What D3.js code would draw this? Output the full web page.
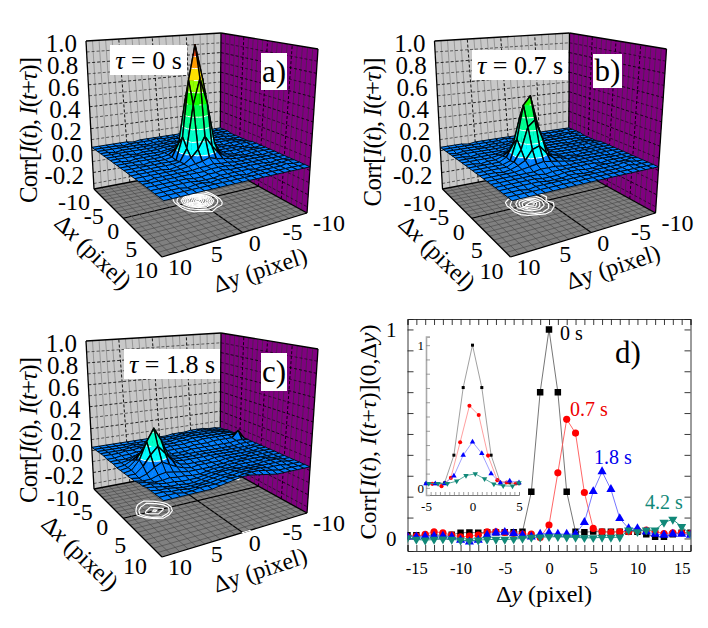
<!DOCTYPE html>
<html>
<head>
<meta charset="utf-8">
<script src="https://cdnjs.cloudflare.com/ajax/libs/d3/7.8.5/d3.min.js"></script>
<style>
  html, body { margin: 0; padding: 0; background: #fff; }
  text { font-family: "Liberation Serif", serif; fill: #000; }
</style>
</head>
<body>
<div id="chart"></div>
<script>
// surface heights, z * 100. rows are dx -10..10, columns are dy -10..10
const surfaceA = [
  [3,3,2,3,3,3,4,3,3,3,3,3,3,3,2,3,3,3,3,3,3],
  [3,3,3,3,2,3,3,4,3,3,3,4,3,3,3,3,2,3,3,3,3],
  [3,3,3,2,3,3,3,3,3,4,3,3,3,2,3,3,3,3,3,3,3],
  [2,3,3,3,3,2,3,3,3,3,4,3,3,3,3,3,3,3,2,3,3],
  [2,2,3,3,3,3,3,3,4,4,4,4,3,3,3,3,3,3,3,3,3],
  [2,2,2,3,3,3,3,3,3,4,4,4,4,3,3,3,2,3,3,3,3],
  [2,2,3,3,3,3,3,3,4,4,5,5,4,3,3,3,3,3,3,3,3],
  [2,3,3,3,2,3,3,4,5,6,8,6,5,4,3,3,3,3,2,3,3],
  [3,3,3,2,3,3,3,4,8,14,24,15,8,4,3,3,3,3,3,3,3],
  [3,3,2,3,3,3,3,4,14,50,72,50,15,4,3,3,3,2,3,3,3],
  [3,2,3,3,3,3,3,3,22,70,100,70,22,3,3,3,3,3,3,3,3],
  [3,3,3,3,3,2,3,4,15,50,72,50,14,4,3,3,3,3,3,3,3],
  [3,3,3,3,2,3,3,4,8,15,24,14,8,4,3,2,3,3,3,3,3],
  [3,3,2,3,3,3,3,4,5,6,8,6,5,4,3,3,3,3,3,3,3],
  [3,3,3,3,3,3,3,3,4,4,5,4,4,3,3,3,3,3,3,2,3],
  [3,3,3,3,3,3,3,3,3,4,4,4,3,3,3,3,3,3,3,3,3],
  [3,3,3,2,3,3,3,3,3,3,4,3,3,2,2,3,3,3,3,3,3],
  [3,4,3,3,3,3,2,3,3,3,3,3,2,2,2,3,3,3,3,3,3],
  [3,3,4,3,3,3,3,3,2,3,3,3,3,2,3,3,2,3,3,3,3],
  [3,3,3,3,3,3,3,3,3,3,3,3,3,3,3,3,3,3,3,3,3],
  [3,3,3,3,3,3,3,3,3,3,3,3,3,3,3,3,3,3,3,3,3]
];
const surfaceB = [
  [3,3,3,3,3,3,3,3,4,3,3,3,3,3,3,3,2,3,3,3,3],
  [3,4,3,3,3,3,4,3,3,3,3,4,3,3,3,3,3,3,3,3,3],
  [3,3,3,3,2,3,3,3,3,4,3,3,3,3,3,2,3,3,3,3,3],
  [3,3,4,3,3,3,3,3,3,3,3,4,3,3,3,3,3,3,3,2,3],
  [2,3,3,3,3,3,3,3,3,3,4,4,4,3,3,3,3,3,3,3,3],
  [2,2,3,3,3,3,3,3,3,3,4,4,4,4,3,3,3,3,2,3,3],
  [2,2,3,3,2,3,3,3,3,3,4,4,5,4,4,3,3,3,3,3,3],
  [2,3,3,3,3,3,3,3,3,4,5,6,8,7,5,4,3,3,3,3,3],
  [3,3,3,3,3,3,3,3,3,5,7,13,22,20,9,5,3,3,2,3,3],
  [3,3,3,2,3,3,3,3,3,5,8,24,44,38,16,6,3,3,3,3,3],
  [3,3,3,3,3,3,3,3,3,4,6,31,57,50,22,5,3,3,3,3,3],
  [3,3,3,3,3,3,2,3,3,5,7,22,38,33,15,6,3,3,3,3,3],
  [3,3,3,3,3,3,3,3,3,5,6,11,18,16,8,5,3,2,3,3,3],
  [3,3,2,3,3,3,3,3,3,4,5,6,7,6,5,4,3,3,3,3,3],
  [3,3,3,3,3,3,3,3,3,3,3,4,4,4,3,3,3,3,3,3,3],
  [3,3,3,3,3,2,3,3,3,3,3,3,3,2,3,3,3,3,3,3,3],
  [3,4,3,3,3,3,3,2,2,3,3,3,2,2,2,3,3,3,3,3,3],
  [3,3,4,4,3,3,3,3,2,2,3,3,2,2,2,3,3,3,3,3,3],
  [3,3,3,4,3,3,3,3,3,3,3,3,3,3,3,3,3,2,3,3,3],
  [3,3,3,3,3,3,3,3,3,3,3,3,3,3,3,3,3,3,3,3,3],
  [3,3,3,3,3,3,3,3,3,3,3,3,3,3,3,3,3,3,3,3,3]
];
const surfaceC = [
  [3,4,4,5,5,5,4,4,4,3,3,3,3,3,3,3,3,3,3,3,3],
  [3,4,5,5,6,5,5,5,4,4,4,3,3,3,3,3,3,3,3,3,3],
  [4,5,5,6,6,6,6,5,5,4,4,4,3,3,3,4,3,3,3,3,3],
  [4,5,6,6,6,6,6,6,5,5,4,4,4,3,4,4,4,3,3,3,3],
  [4,6,6,6,6,6,6,6,5,5,4,4,4,4,4,5,4,4,3,3,3],
  [3,6,6,6,6,6,6,5,5,4,4,4,3,3,4,4,4,3,3,2,2],
  [3,11,5,5,5,5,4,4,4,3,3,3,3,3,3,4,4,3,2,2,2],
  [3,4,4,3,3,3,3,3,3,3,2,2,2,2,3,6,8,6,3,2,2],
  [3,3,3,2,2,2,2,2,2,2,2,2,2,3,6,9,12,9,5,2,1],
  [3,2,2,2,2,2,2,2,2,2,2,2,2,3,8,14,22,15,7,2,1],
  [3,3,2,2,2,2,2,2,2,2,2,2,2,3,8,22,33,23,9,2,1],
  [3,3,2,2,2,2,2,2,2,1,1,1,1,2,6,13,20,14,6,1,1],
  [3,3,3,3,2,2,2,2,1,1,1,1,0,1,3,6,9,6,2,0,1],
  [3,3,3,3,3,2,2,2,1,1,0,0,0,0,1,2,3,2,0,0,1],
  [3,3,3,3,3,3,3,2,2,1,1,0,-1,-1,0,0,1,0,0,1,2],
  [3,3,3,4,3,3,3,3,2,2,1,1,0,-1,-1,-1,0,0,1,2,2],
  [3,3,4,4,4,3,3,3,3,3,3,2,1,0,-1,-1,0,0,1,2,3],
  [3,3,4,4,4,4,4,4,4,4,3,3,2,1,0,0,0,1,2,2,3],
  [3,3,3,4,4,4,5,5,5,5,4,4,3,2,2,1,1,2,2,3,3],
  [3,3,3,3,3,4,5,6,6,6,5,5,4,3,3,3,2,2,3,3,3],
  [3,3,3,3,3,3,4,5,6,7,7,6,5,4,3,3,3,3,3,3,3]
];

// cut along dx = 0 for each delay
const dyValues = [-16,-15,-14,-13,-12,-11,-10,-9,-8,-7,-6,-5,-4,-3,-2,-1,0,1,2,3,4,5,6,7,8,9,10,11,12,13,14,15,16];
const corr0s = [.015,.016,.012,.018,.014,.018,.027,.029,.027,.03,.03,.03,.03,.032,.223,.70,1,.70,.223,.032,.03,.033,.032,.032,.032,.032,.032,.02,.008,.008,.02,.027,.027];
const corr07s = [.008,.011,.02,.032,.027,.016,.008,.011,.016,.032,.032,.029,.024,.021,.021,.005,.064,.314,.57,.504,.22,.048,.032,.029,.032,.032,.037,.04,.032,.024,.027,.027,.024];
const corr18s = [.008,.008,.01,.012,.012,.008,-.008,-.016,-.008,.016,.027,.03,.024,.016,.008,.021,.027,.021,.021,.021,.077,.225,.32,.235,.096,.048,.048,.032,.021,.016,.021,.021,.016];
const corr42s = [.003,-.005,-.008,-.005,-.003,-.005,-.008,-.011,-.008,-.005,-.005,-.005,-.003,0,.005,.006,.008,.008,.006,.005,.003,.003,.005,.005,.006,.04,.032,.04,.04,.077,.091,.056,.021];

// inset, same delays with the peaks moved on top of each other
const insetX0s = [-5,-4,-3,-2,-1,0,1,2,3,4,5];
const insetY0s = [.03,.03,.035,.229,.703,1,.703,.229,.035,.035,.03];
const insetX07s = [-4.33,-3.33,-2.33,-1.33,-.33,.67,1.67,2.67,3.67,4.67];
const insetY07s = [.028,.012,.07,.32,.575,.51,.226,.054,.037,.03];
const insetX18s = [-5,-4,-3,-2,-1,0,1,2,3,4,5];
const insetY18s = [.03,.03,.03,.084,.229,.322,.241,.1,.035,.049,.037];
const insetX42s = [-4.7,-3.7,-2.7,-1.7,-.7,.3,1.3,2.3,3.3,4.3,5];
const insetY42s = [.03,.03,.03,.047,.086,.098,.063,.026,.014,.012,.035];

const zTicks = [1.0,0.8,0.6,0.4,0.2,0.0,-0.2];
const dxTicks = [-10,-5,0,5,10];
const dyTicks = [10,5,0,-5,-10];
const levels = [.1,.2,.3,.4,.5,.6,.7,.8,.9];
const levelColors = ["#0080ff","#00ffff","#00ffc8","#00ff90","#00ff50","#10ff00","#90ff00","#ffe000","#ff9a00","#ff4a10"];

const W = 708, H = 628;
const svg = d3.select("#chart").append("svg").attr("width", W).attr("height", H);

// parts: [text, italic] pairs
function rich(sel, parts) {
  parts.forEach(p => sel.append("tspan").attr("font-style", p[1] ? "italic" : "normal").text(p[0]));
  return sel;
}

function squareToQuad(q) {
  const [p0, p1, p2, p3] = q;
  const dx1 = p1[0]-p2[0], dx2 = p3[0]-p2[0], sx = p0[0]-p1[0]+p2[0]-p3[0];
  const dy1 = p1[1]-p2[1], dy2 = p3[1]-p2[1], sy = p0[1]-p1[1]+p2[1]-p3[1];
  const den = dx1*dy2 - dx2*dy1;
  const g = (sx*dy2 - dx2*sy)/den, h = (dx1*sy - sx*dy1)/den;
  const a = p1[0]-p0[0]+g*p1[0], b = p3[0]-p0[0]+h*p3[0];
  const d = p1[1]-p0[1]+g*p1[1], e = p3[1]-p0[1]+h*p3[1];
  return (u, v) => {
    const k = g*u + h*v + 1;
    return [(a*u + b*v + p0[0])/k, (d*u + e*v + p0[1])/k];
  };
}

// keep the part of a polygon [dx,dy,z] on one side of a z level
function clipZ(poly, level, keepAbove) {
  const out = [];
  poly.forEach((p, i) => {
    const q = poly[(i+1) % poly.length];
    const pIn = keepAbove ? p[2] >= level : p[2] <= level;
    const qIn = keepAbove ? q[2] >= level : q[2] <= level;
    if (pIn) out.push(p);
    if (pIn !== qIn) {
      const t = (level - p[2])/(q[2] - p[2]);
      out.push([p[0]+t*(q[0]-p[0]), p[1]+t*(q[1]-p[1]), level]);
    }
  });
  return out;
}

function Plot3D(cfg) {
  const g = svg.append("g").attr("transform", `translate(${cfg.ox},${cfg.oy})`);
  const dyScale = d3.scaleLinear().domain([-10,10]).range([0,1]);
  const dxScale = d3.scaleLinear().domain([-10,10]).range([0,1]);
  const zScale = d3.scaleLinear().domain([-0.35,1]).range([0,1]);
  // D back, A left, B front, C right
  const floor = squareToQuad([[220,165],[94,189],[162,257],[307,213]]);
  const top = squareToQuad([[221,33],[86,41],[168,57],[318,49]]);
  const project = (dx, dy, z) => {
    const u = dyScale(dy), v = dxScale(dx), w = zScale(z);
    const a = floor(u,v), b = top(u,v);
    return [a[0]+w*(b[0]-a[0]), a[1]+w*(b[1]-a[1])];
  };
  const closed = d3.line().curve(d3.curveLinearClosed);
  const open = d3.line();

  const face = (pts, fill) => g.append("path").attr("d", closed(pts)).attr("fill", fill);
  const seg = (a, b, w, color, dash) => g.append("path").attr("d", open([a,b])).attr("fill","none").attr("stroke",color)
    .attr("stroke-width", w).attr("stroke-dasharray", dash || null);

  const zMin = zScale.domain()[0];
  face([project(-10,10,zMin),project(-10,-10,zMin),project(-10,-10,1),project(-10,10,1)], "#c8c8c8");
  face([project(-10,-10,zMin),project(10,-10,zMin),project(10,-10,1),project(-10,-10,1)], "#800080");
  face([project(-10,-10,zMin),project(-10,10,zMin),project(10,10,zMin),project(10,-10,zMin)], "#808080");

  d3.range(-9,10).forEach(i => {
    const major = i % 5 === 0;
    seg(project(-10,i,zMin), project(-10,i,1), major ? 0.9 : 0.6, major ? "#000" : "#777", major ? "3,2" : null);
    seg(project(i,-10,zMin), project(i,-10,1), major ? 0.9 : 0.6, major ? "#000" : "#333", major ? "3,2" : null);
    seg(project(-10,i,zMin), project(10,i,zMin), i === 0 ? 1.2 : 0.6, i === 0 ? "#000" : "#444");
    seg(project(i,-10,zMin), project(i,10,zMin), i === 0 ? 1.2 : 0.6, i === 0 ? "#000" : "#444");
  });
  d3.range(-3,10).forEach(i => {
    const z = i/10, major = i % 2 === 0;
    seg(project(-10,10,z), project(-10,-10,z), major ? 0.8 : 0.55, "#000", "3,2");
    seg(project(-10,-10,z), project(10,-10,z), major ? 0.8 : 0.55, "#000", "3,2");
  });
  // wall and floor outlines
  const outline = [[-10,10,1,-10,-10,1],[-10,-10,1,10,-10,1],[10,-10,1,10,-10,zMin],[-10,10,1,-10,10,zMin],
    [-10,-10,1,-10,-10,zMin],[-10,10,zMin,10,10,zMin],[10,10,zMin,10,-10,zMin],[-10,10,zMin,-10,-10,zMin],[-10,-10,zMin,10,-10,zMin]];
  outline.forEach(o => seg(project(o[0],o[1],o[2]), project(o[3],o[4],o[5]), 1.3, "#000"));

  // contours on the floor
  const n = cfg.surface.length;
  const flat = cfg.surface.flat().map(v => v/100);
  const contours = d3.contours().size([n,n]).smooth(true).thresholds(cfg.contourLevels)(flat);
  contours.forEach(c => c.coordinates.forEach(polygon => polygon.forEach(ring => {
    const pts = ring.map(p => project(p[1]-0.5-10, p[0]-0.5-10, zMin));
    g.append("path").attr("d", closed(pts)).attr("fill","none").attr("stroke","#fff").attr("stroke-width",1.2);
  })));

  // surface, back corner first so the nearer cells cover the farther ones
  const bands = [-1].concat(levels, [2]);
  const node = (r, c) => [r-10, c-10, cfg.surface[r][c]/100];
  for (let r = 0; r < n-1; r++) {
    for (let c = 0; c < n-1; c++) {
      const quad = [node(r,c), node(r,c+1), node(r+1,c+1), node(r+1,c)];
      const tris = [[quad[0],quad[1],quad[2]], [quad[0],quad[2],quad[3]]];
      tris.forEach(tri => {
        for (let b = 0; b < bands.length-1; b++) {
          const poly = clipZ(clipZ(tri, bands[b], true), bands[b+1], false);
          if (poly.length < 3) continue;
          g.append("path").attr("d", closed(poly.map(p => project(p[0],p[1],p[2]))))
            .attr("fill", levelColors[b]).attr("stroke", levelColors[b]).attr("stroke-width", 0.3);
        }
        levels.forEach(l => {
          const up = clipZ(tri, l, true).filter(p => p[2] === l);
          if (up.length === 2) {
            g.append("path").attr("d", open(up.map(p => project(p[0],p[1],p[2]))))
              .attr("fill","none").attr("stroke","#fff").attr("stroke-width",1);
          }
        });
      });
      const peak = d3.max(quad, p => p[2]) > 0.1;
      g.append("path").attr("d", closed(quad.map(p => project(p[0],p[1],p[2]))))
        .attr("fill","none").attr("stroke","#000").attr("stroke-width", peak ? 1.4 : 0.9).attr("stroke-linejoin","round");
    }
  }

  // tick labels
  zTicks.forEach(t => {
    const p = project(-10,10,t);
    g.append("text").attr("x", p[0]-9).attr("y", p[1]+11).attr("text-anchor","end").attr("font-size",25)
      .text(d3.format(".1f")(t).replace("\u2212","-"));
  });
  dxTicks.forEach(t => {
    const p = project(t,10,zMin);
    g.append("text").attr("x", p[0]-4+cfg.dxLabel[0]).attr("y", p[1]+21+cfg.dxLabel[1]).attr("text-anchor","end").attr("font-size",24)
      .text(String(t));
  });
  dyTicks.forEach(t => {
    const p = project(10,t,zMin);
    g.append("text").attr("x", p[0]+6).attr("y", p[1]+18).attr("text-anchor","start").attr("font-size",24)
      .text(String(t));
  });

  // axis titles
  rich(g.append("text").attr("transform", `translate(${cfg.zTitle[0]},${cfg.zTitle[1]}) rotate(-90)`)
    .attr("text-anchor","middle").attr("font-size",25).attr("y",8).attr("textLength",cfg.zTitle[2]).attr("lengthAdjust","spacing"),
    [["Corr[",0],["I",1],["(",0],["t",1],["),  ",0],["I",1],["(",0],["t",1],["+",0],["τ",1],[")]",0]]);
  rich(g.append("text").attr("transform", `translate(${cfg.dxTitle[0]},${cfg.dxTitle[1]}) rotate(44)`)
    .attr("text-anchor","middle").attr("font-size",24).attr("y",8), [["Δ",0],["x",1],[" (pixel)",0]]);
  rich(g.append("text").attr("transform", `translate(${cfg.dyTitle[0]},${cfg.dyTitle[1]}) rotate(-18)`)
    .attr("text-anchor","middle").attr("font-size",24).attr("y",8), [["Δ",0],["y",0],[" (pixel)",0]]);

  // white labels on the walls
  const b1 = cfg.tauBox, b2 = cfg.letterBox;
  g.append("rect").attr("x",b1[0]).attr("y",b1[1]).attr("width",b1[2]).attr("height",b1[3]).attr("fill","#fff");
  rich(g.append("text").attr("x",b1[0]+b1[2]/2).attr("y",b1[1]+b1[3]/2+9).attr("text-anchor","middle").attr("font-size",26),
    [["τ",1],[" = "+cfg.tau,0]]);
  g.append("rect").attr("x",b2[0]).attr("y",b2[1]).attr("width",b2[2]).attr("height",b2[3]).attr("fill","#fff");
  g.append("text").attr("x",b2[0]+b2[2]/2).attr("y",b2[1]+b2[3]/2+10).attr("text-anchor","middle").attr("font-size",31).text(cfg.letter);
}

function addSeries(g, xs, ys, x, y, color, lineColor, symbolType, size, flip, lineWidth) {
  const pts = xs.map((v,i) => [x(v), y(ys[i])]);
  g.append("path").attr("d", d3.line()(pts)).attr("fill","none").attr("stroke",lineColor).attr("stroke-width",lineWidth);
  g.selectAll(null).data(pts).join("path")
    .attr("d", d3.symbol().type(symbolType).size(size)())
    .attr("transform", d => `translate(${d[0]},${d[1]})${flip ? " rotate(180)" : ""}`)
    .attr("fill", color);
}

function PlotCuts() {
  const x = d3.scaleLinear().domain([-16,16]).range([407.5,690.5]);
  const y = d3.scaleLinear().domain([-0.06,1.05]).range([551,319]);
  const g = svg.append("g");

  g.append("clipPath").attr("id","frame").append("rect")
    .attr("x",407.5).attr("y",319).attr("width",283).attr("height",232);

  const bottom = d3.axisBottom(x).tickValues(d3.range(-16,17)).tickSize(-6).tickPadding(11)
    .tickFormat(d => d % 5 === 0 ? String(d) : "");
  const topAxis = d3.axisTop(x).tickValues(d3.range(-16,17)).tickSize(-6).tickFormat("");
  const left = d3.axisLeft(y).tickValues(d3.range(0,11).map(d => d/10)).tickSize(-6).tickPadding(11)
    .tickFormat(d => (d === 0 || d === 1) ? String(d) : "");
  const right = d3.axisRight(y).tickValues(d3.range(0,11).map(d => d/10)).tickSize(-6).tickFormat("");

  const gb = g.append("g").attr("transform","translate(0,551)").call(bottom);
  const gt = g.append("g").attr("transform","translate(0,319)").call(topAxis);
  const gl = g.append("g").attr("transform","translate(407.5,0)").call(left);
  const gr = g.append("g").attr("transform","translate(690.5,0)").call(right);
  gb.selectAll("text").attr("font-size",16.5);
  gl.selectAll("text").attr("font-size",21);
  [gb,gt,gl,gr].forEach(a => { a.selectAll("path,line").attr("stroke","#222").attr("stroke-width",0.9); });

  const marks = g.append("g").attr("clip-path","url(#frame)");
  addSeries(marks, dyValues, corr0s, x, y, "#000", "#666", d3.symbolSquare, 42, false, 0.9);
  addSeries(marks, dyValues, corr07s, x, y, "#ff0000", "#f55", d3.symbolCircle, 40, false, 0.9);
  addSeries(marks, dyValues, corr18s, x, y, "#0000ff", "#66f", d3.symbolTriangle, 36, false, 0.9);
  addSeries(marks, dyValues, corr42s, x, y, "#108878", "#108878", d3.symbolTriangle, 36, true, 0.9);

  const lab = (txt, px, py, color) => g.append("text").attr("x",px).attr("y",py).attr("font-size",20).style("fill",color).text(txt);
  lab("0 s", 560, 340, "#000");
  lab("0.7 s", 570, 416, "#ee0000");
  lab("1.8 s", 594, 464, "#0000ee");
  lab("4.2 s", 645, 509, "#108878");
  g.append("text").attr("x",615).attr("y",363).attr("font-size",31).text("d)");

  rich(g.append("text").attr("x",544).attr("y",602).attr("text-anchor","middle").attr("font-size",24),
    [["Δ",0],["y",1],[" (pixel)",0]]);
  rich(g.append("text").attr("transform","translate(368,432) rotate(-90)").attr("y",8)
    .attr("text-anchor","middle").attr("font-size",24).attr("textLength",215).attr("lengthAdjust","spacing"),
    [["Corr[",0],["I",1],["(",0],["t",1],["),  ",0],["I",1],["(",0],["t",1],["+",0],["τ",1],[")](0,Δ",0],["y",1],[")",0]]);

  // inset
  const ix = d3.scaleLinear().domain([-5,5]).range([426,519]);
  const iy = d3.scaleLinear().domain([-0.05,1.06]).range([495,336.6]);
  const ib = d3.axisBottom(ix).tickValues(d3.range(-10,11).map(d => d/2)).tickSize(-3).tickPadding(7)
    .tickFormat(d => d % 5 === 0 ? String(d) : "");
  const il = d3.axisLeft(iy).tickValues(d3.range(0,11).map(d => d/10)).tickSize(-4).tickPadding(2)
    .tickFormat(d => (d === 0 || d === 1) ? String(d) : "");
  const gib = g.append("g").attr("transform","translate(0,495)").call(ib);
  const gil = g.append("g").attr("transform","translate(426,0)").call(il);
  gib.selectAll("text").attr("font-size",13);
  gil.selectAll("text").attr("font-size",13);
  gib.selectAll("path,line").attr("stroke","#888").attr("stroke-width",0.8);
  gil.selectAll("line").attr("stroke","#888").attr("stroke-width",0.8);
  gil.select("path").attr("stroke","#aaa").attr("stroke-width",1.6);
  gib.select("path").attr("stroke","#777").attr("stroke-width",1);

  addSeries(g, insetX0s, insetY0s, ix, iy, "#000", "#777", d3.symbolSquare, 9, false, 0.7);
  addSeries(g, insetX07s, insetY07s, ix, iy, "#ff0000", "#f77", d3.symbolCircle, 13, false, 0.7);
  addSeries(g, insetX18s, insetY18s, ix, iy, "#0000ff", "#77f", d3.symbolTriangle, 13, false, 0.7);
  addSeries(g, insetX42s, insetY42s, ix, iy, "#108878", "#108878", d3.symbolTriangle, 13, true, 0.7);
}

function PlotGraphs() {
  const peakLevels = [.06].concat(levels);
  Plot3D({ surface: surfaceA, ox: 0, oy: 0, tau: "0 s", letter: "a)", contourLevels: peakLevels,
    tauBox: [110,45,77,30], letterBox: [261,53,26,37],
    dxLabel: [0,0], zTitle: [29,130,146], dxTitle: [93,252], dyTitle: [260,270] });
  Plot3D({ surface: surfaceB, ox: 348.5, oy: 0, tau: "0.7 s", letter: "b)", contourLevels: peakLevels,
    tauBox: [123.5,50,96,30], letterBox: [244.5,54,29,34],
    dxLabel: [-3,1], zTitle: [24.5,132,149], dxTitle: [88.5,253], dyTitle: [264.5,267] });
  Plot3D({ surface: surfaceC, ox: 0, oy: 300, tau: "1.8 s", letter: "c)", contourLevels: [.07,.1,.2,.3],
    tauBox: [124,49,96,30], letterBox: [261,53,26,38],
    dxLabel: [-11,-4], zTitle: [29,130,146], dxTitle: [80,253], dyTitle: [260,270] });
  PlotCuts();
}

document.addEventListener("DOMContentLoaded", () => { PlotGraphs(); });
</script>
</body>
</html>
